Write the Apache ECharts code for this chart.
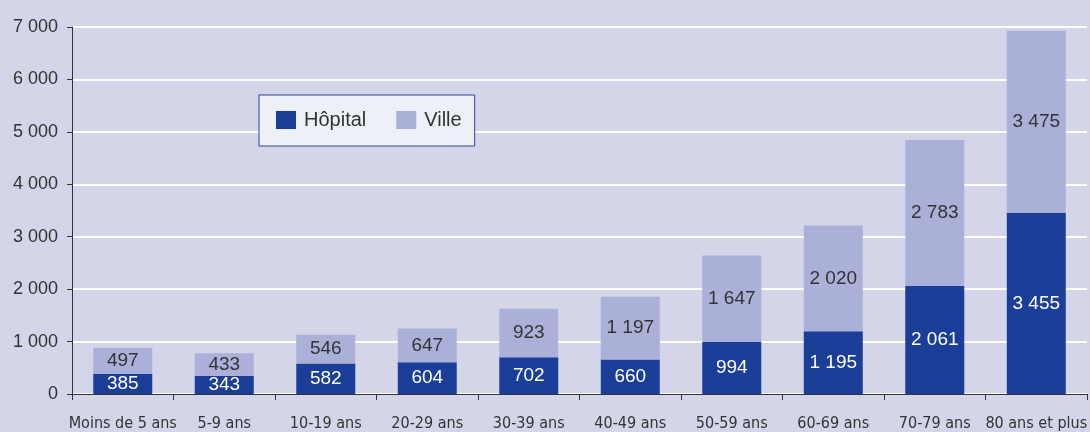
<!DOCTYPE html>
<html>
<head>
<meta charset="utf-8">
<script src="https://cdn.jsdelivr.net/npm/echarts@6/dist/echarts.min.js"></script>
<style>
  html, body { margin: 0; padding: 0; background: #d4d5e9; }
  #chart { width: 1090px; height: 432px; }
</style>
</head>
<body>
<div id="chart"></div>
<script>
// tranches d'âge
var categories = ['Moins de 5 ans', '5-9 ans', '10-19 ans', '20-29 ans', '30-39 ans',
  '40-49 ans', '50-59 ans', '60-69 ans', '70-79 ans', '80 ans et plus'];
var hopital = [385, 343, 582, 604, 702, 660, 994, 1195, 2061, 3455];
var ville = [497, 433, 546, 647, 923, 1197, 1647, 2020, 2783, 3475];

// 1 000 -> "1 000"
function fmt(v) {
  return String(v).replace(/\B(?=(\d{3})+(?!\d))/g, ' ');
}

var chart = echarts.init(document.getElementById('chart'));

var option = {
  backgroundColor: '#d4d5e9',
  animation: false,
  textStyle: { fontFamily: 'Liberation Sans, Arial, sans-serif' },
  legend: {
    left: 259,
    top: 95,
    padding: [15, 13, 16, 17],
    backgroundColor: '#eef0f8',
    borderColor: '#2a4597',
    borderWidth: 1,
    itemWidth: 20,
    itemHeight: 18,
    itemGap: 30,
    icon: 'rect',
    textStyle: { fontSize: 20, color: '#333', padding: [0, 0, 0, 3] },
    data: ['Hôpital', 'Ville']
  },
  grid: { left: 72, right: 0, top: 27, bottom: 38 },
  xAxis: {
    type: 'category',
    data: categories,
    axisLine: { lineStyle: { color: '#333', width: 1 } },
    axisTick: { show: true, length: 6, lineStyle: { color: '#333' } },
    axisLabel: {
      fontFamily: 'DejaVu Sans Condensed, Liberation Sans Narrow, sans-serif',
      fontSize: 16, color: '#333', margin: 22, interval: 0
    }
  },
  yAxis: {
    type: 'value',
    min: 0,
    max: 7000,
    interval: 1000,
    axisLine: { show: true, lineStyle: { color: '#333', width: 1 } },
    axisTick: { show: true, length: 5, lineStyle: { color: '#333' } },
    axisLabel: {
      fontSize: 18, color: '#333', margin: 14,
      formatter: function (v) { return fmt(v); }
    },
    splitLine: { lineStyle: { color: '#ffffff', width: 2 } }
  },
  series: [
    {
      name: 'Hôpital',
      type: 'bar',
      stack: 'total',
      barWidth: 59,
      itemStyle: { color: '#1b3f99' },
      label: {
        show: true,
        position: 'inside',
        color: '#ffffff',
        fontSize: 19,
        formatter: function (p) { return fmt(p.value); }
      },
      data: hopital
    },
    {
      name: 'Ville',
      type: 'bar',
      stack: 'total',
      barWidth: 59,
      itemStyle: { color: '#abb0d8' },
      label: {
        show: true,
        position: 'inside',
        color: '#333333',
        fontSize: 19,
        formatter: function (p) { return fmt(p.value); }
      },
      data: ville
    }
  ]
};

chart.setOption(option);
</script>
</body>
</html>
